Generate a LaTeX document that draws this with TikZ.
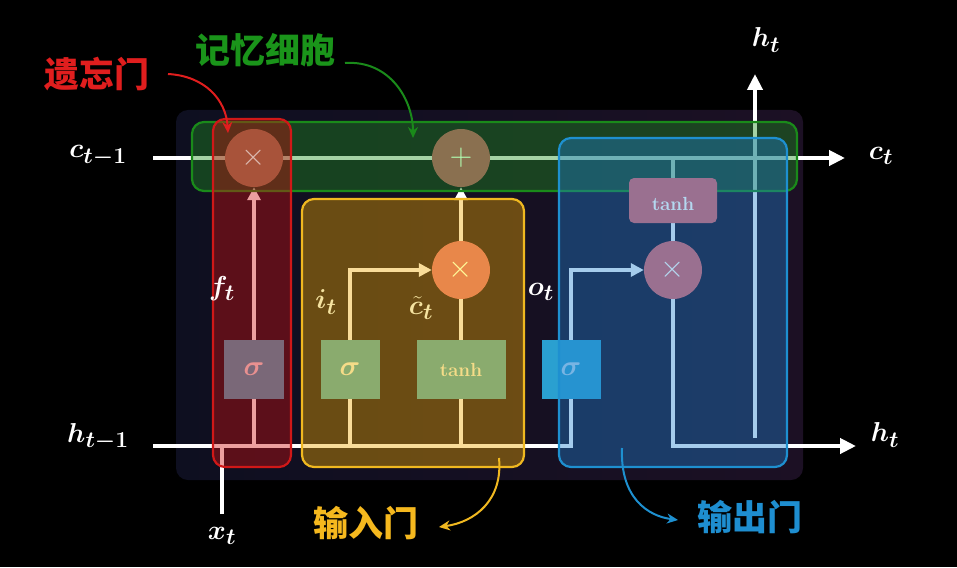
\documentclass[tikz,border=0pt]{standalone}
\usepackage{amsmath,bm}
\usepackage{fontspec}
\newfontfamily\cjk{Noto Sans CJK SC}
\usetikzlibrary{arrows.meta}
\pgfdeclarelayer{back}
\pgfdeclarelayer{lines}
\pgfdeclarelayer{gates}
\pgfsetlayers{back,lines,gates,main}
\definecolor{panelL}{HTML}{0E0F20}
\definecolor{panelR}{HTML}{1C1024}
\definecolor{gDraw}{HTML}{1A8A1A}\definecolor{gFill}{HTML}{209020}
\definecolor{rDraw}{HTML}{D01818}\definecolor{rFill}{HTML}{D01010}
\definecolor{yDraw}{HTML}{F0B820}\definecolor{yFill}{HTML}{F0A800}
\definecolor{bDraw}{HTML}{1E90D0}\definecolor{bFill}{HTML}{2080D0}
\definecolor{cFx}{HTML}{A8533A}\definecolor{cPx}{HTML}{8A7050}
\definecolor{cIx}{HTML}{E8874A}\definecolor{cOx}{HTML}{9A7090}
\definecolor{cFs}{HTML}{7A6878}\definecolor{cIs}{HTML}{8AAB6E}
\definecolor{cOs}{HTML}{2AA0D0}
\definecolor{tPink}{HTML}{E89090}\definecolor{tYel}{HTML}{F5DC88}
\definecolor{tBlue}{HTML}{B4D8F0}\definecolor{lblY}{HTML}{F5E3A0}
\definecolor{zhR}{HTML}{E01E1E}\definecolor{zhG}{HTML}{1A941A}
\definecolor{zhY}{HTML}{F5B81E}\definecolor{zhB}{HTML}{1E8ED0}
\tikzset{
  wline/.style={white, line width=4.5pt},
  bigtip/.style={-{Triangle[length=16pt,width=15pt]}},
  smalltip/.style={-{Triangle[length=13pt,width=13pt]}},
  opc/.style={circle, minimum size=58pt, inner sep=0pt},
  sbox/.style={minimum height=59pt, inner sep=0pt},
  mlab/.style={font=\fontsize{24.88}{25}\selectfont, scale=1.1},
  zhlab/.style={font=\cjk\bfseries\fontsize{35}{35}\selectfont},
  gatebox/.style={rounded corners=12pt, line width=2.2pt, fill opacity=0.4},
  note/.style={line width=2pt, -{Stealth[length=11pt,width=10pt]}},
  opsym/.style={font=\fontsize{24.88}{25}\selectfont, scale=1.25},
  sigtxt/.style={font=\fontsize{24.88}{25}\selectfont, scale=1.15},
  tanhfont/.style={font=\bfseries\fontsize{19}{19}\selectfont}
}
\begin{document}
\begin{tikzpicture}[x=1pt,y=-1pt]
\useasboundingbox (0,0) rectangle (957,567);
\begin{pgfonlayer}{back}
\fill[black] (0,0) rectangle (957,567);
\shade[left color=panelL, right color=panelR, rounded corners=12pt] (176,110) rectangle (803,480);
\end{pgfonlayer}

% operation circles
\node[opc, fill=cFx] (fx) at (254,158) {};
\node[opsym, text=cFx!40!white] at (fx) {$\times$};
\node[opc, fill=cPx] (px) at (461,158) {};
\node[opsym, text=green!30!white] at (px) {$+$};
\node[opc, fill=cIx] (ix) at (461,270) {};
\node[opsym, text=yellow!40!white] at (ix) {$\times$};
\node[opc, fill=cOx] (ox) at (673,270) {};
\node[opsym, text=tBlue] at (ox) {$\times$};

% activation boxes
\node[sbox, minimum width=60pt, fill=cFs] (fsig) at (254,369.5) {};
\node[sigtxt, text=tPink] at (fsig) {$\bm{\sigma}$};
\node[sbox, minimum width=59pt, fill=cIs] (isig) at (350,369.5) {};
\node[sigtxt, text=tYel] at (isig) {$\bm{\sigma}$};
\node[sbox, minimum width=89pt, fill=cIs, text=tYel, tanhfont] (tbox) at (461,369.5) {tanh};
\node[minimum width=88pt, minimum height=45pt, inner sep=0pt, rounded corners=5pt, fill=cOx] (otanh) at (673,200.5) {};
\node[text=tBlue, tanhfont] at ([yshift=-3pt]otanh.center) {tanh};

\begin{pgfonlayer}{lines}
\node[sbox, minimum width=59pt, fill=cOs] (osig) at (571,369.5) {};
\node[sigtxt, text=tBlue] at (osig) {$\bm{\sigma}$};
\coordinate (cin) at (153,158);
\coordinate (cout) at (845,158);
\coordinate (hin) at (153,446);
\coordinate (oturn) at (571,446);
\coordinate (fbase) at (254,446);
\coordinate (ibase) at (350,446);
\coordinate (tbase) at (461,446);
\coordinate (xt0) at (222,514);
\coordinate (xtj) at (222,446);
\coordinate (ctap) at (673,158);
\coordinate (hout) at (856,446);
\coordinate (hv0) at (755,438);
\coordinate (hvtop) at (755,74);
% cell state
\draw[wline, bigtip] (cin) -- (cout);
% hidden input
\draw[wline] (hin) -- (oturn) -- (osig.south);
\draw[wline] (xt0) -- (xtj);
% forget gate
\draw[wline] (fbase) -- (fsig.south);
\draw[wline, smalltip] (fsig.north) -- (fx.south);
% input gate
\draw[wline] (ibase) -- (isig.south);
\draw[wline, smalltip] (isig.north) |- (ix.west);
\draw[wline] (tbase) -- (tbox.south);
\draw[wline] (tbox.north) -- (ix.south);
\draw[wline, smalltip] (ix.north) -- (px.south);
% output gate
\draw[wline, smalltip] (osig.north) |- (ox.west);
\draw[wline] (ctap) -- (otanh.north);
\draw[wline] (otanh.south) -- (ox.north);
\draw[wline, bigtip] (ox.south) |- (hout);
\draw[wline, bigtip] (hv0) -- (hvtop);
\end{pgfonlayer}

\begin{pgfonlayer}{gates}
\draw[gatebox, draw=gDraw, fill=gFill] (192,122) rectangle (797,191);
\draw[gatebox, draw=rDraw, fill=rFill] (213,119) rectangle (291,467);
\draw[gatebox, draw=yDraw, fill=yFill] (302,199) rectangle (524,467);
\draw[gatebox, draw=bDraw, fill=bFill] (559,138) rectangle (787,467);
\end{pgfonlayer}

% math labels
\node[mlab, text=white] (lcin) at (98,156) {$\bm{c_{t-1}}$};
\node[mlab, text=white] (lcout) at (881,156) {$\bm{c_t}$};
\node[mlab, text=white] (lhin) at (98,437) {$\bm{h_{t-1}}$};
\node[mlab, text=white] (lhout) at (885,435) {$\bm{h_t}$};
\node[mlab, text=white] (lhtop) at (766,40) {$\bm{h_t}$};
\node[mlab, text=white] (lxt) at (222,536) {$\bm{x_t}$};
\node[mlab, text=white!90!pink] (lft) at (222,289) {$\bm{f_t}$};
\node[mlab, text=lblY] (lit) at (326,302) {$\bm{i_t}$};
\node[mlab, text=lblY, inner sep=1pt] (lct) at (421,308) {$\bm{\tilde c_t}$};
\node[mlab, text=white] (lot) at (541,292) {$\bm{o_t}$};

% gate names
\node[zhlab, text=zhR] (nf) at (97,74) {遗忘门};
\node[zhlab, text=zhG] (nc) at (265,50) {记忆细胞};
\node[zhlab, text=zhY] (ni) at (366,523) {输入门};
\node[zhlab, text=zhB] (no) at (750,517) {输出门};

\coordinate (rf0) at (168,74);  \coordinate (rf1) at (228,133);
\coordinate (gc0) at (345,63);  \coordinate (gc1) at (413,138);
\coordinate (yi0) at (499,458); \coordinate (yi1) at (439,527);
\coordinate (bo0) at (622,448); \coordinate (bo1) at (678,520);
\draw[note, zhR] (rf0) .. controls (205,76) and (226,100) .. (rf1);
\draw[note, gDraw] (gc0) .. controls (390,60) and (413,100) .. (gc1);
\draw[note, yDraw] (yi0) .. controls (503,500) and (475,522) .. (yi1);
\draw[note, bDraw] (bo0) .. controls (620,498) and (648,516) .. (bo1);
\end{tikzpicture}
\end{document}
